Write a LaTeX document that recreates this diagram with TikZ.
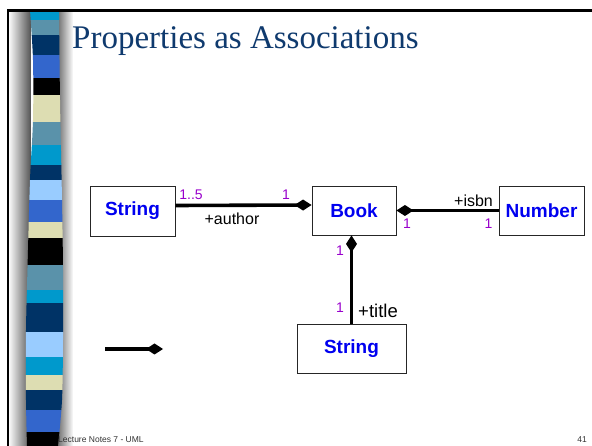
\documentclass[tikz,border=0pt]{standalone}
\usepackage{fontspec}
\setmainfont{Liberation Sans}
\newfontfamily\titlefont{Liberation Serif}
\usetikzlibrary{arrows.meta}
\definecolor{bcyan}{HTML}{0099CC}
\definecolor{bsteel}{HTML}{5A92AA}
\definecolor{bnavy}{HTML}{003366}
\definecolor{broyal}{HTML}{3366CC}
\definecolor{bbeige}{HTML}{DDDDB2}
\definecolor{blight}{HTML}{99CCFF}
\definecolor{titleblue}{HTML}{0F3A6E}
\definecolor{multi}{RGB}{153,0,204}
\definecolor{classblue}{HTML}{0000F0}
\begin{document}
\begin{tikzpicture}[x=1pt,y=-1pt,
  classbox/.style={draw=black!85, line width=0.9pt, inner sep=0pt,
    font=\bfseries\fontsize{19}{19}\selectfont, text=classblue},
  assoc/.style={line width=3.6pt, -{Diamond[length=17pt,width=11pt]}},
  mult/.style={inner sep=0pt, text=multi, font=\fontsize{14}{14}\selectfont},
  role/.style={inner sep=0pt, text=black, font=\fontsize{16}{16}\selectfont},
  foot/.style={inner sep=0pt, text=black!80, font=\fontsize{8.5}{8.5}\selectfont}]
\useasboundingbox (0,0) rectangle (592,446);
\fill[white] (0,0) rectangle (592,446);
% side shading (stepped)
\foreach \i [evaluate=\i as \g using 2+3*\i] in {0,...,21}
  \fill[black!\g] ({9+\i},11) rectangle ({10.2+\i},446);
\foreach \i [evaluate=\i as \g using 66-3.6*\i] in {0,...,17}
  \fill[black!\g] ({55+\i},11) rectangle ({56.2+\i},446);
% coloured strip
\begin{scope}
\clip plot[smooth] coordinates {(30,10) (33,60) (33,120) (30,180) (28,250) (26,330) (26,400) (27,446)}
  -- plot[smooth] coordinates {(58,446) (62,400) (63,340) (63,270) (62,200) (60,100) (59,10)} -- cycle;
\foreach \a/\b/\c in {10/20/bcyan, 20/35/bsteel, 35/55/bnavy, 55/78/broyal, 78/95/black,
  95/122/bbeige, 122/145/bsteel, 145/165/bcyan, 165/180/bnavy, 180/200/blight,
  200/222/broyal, 222/238/bbeige, 238/265/black, 265/290/bsteel, 290/303/bcyan,
  303/332/bnavy, 332/357/blight, 357/375/bcyan, 375/390/bbeige, 390/410/bnavy,
  410/432/broyal, 432/447/black}
  \fill[\c] (20,\a) rectangle (75,\b);
\end{scope}
% frame
\draw[line width=2.6pt] (7,10.5) -- (592,10.5);
\draw[line width=2pt] (8,9.5) -- (8,446);
% title
\node[anchor=base west, inner sep=0pt, text=titleblue, font=\titlefont\fontsize{33}{33}\selectfont]
  (title) at (72,49) {Properties as Associations};
% classes
\node[classbox, minimum width=85pt, minimum height=50pt] (s1) at (132.5,211) {String};
\node[classbox, minimum width=84pt, minimum height=49pt] (book) at (354,210.5) {Book};
\node[classbox, minimum width=85pt, minimum height=49pt] (num) at (541.5,210.5) {Number};
\node[classbox, minimum width=109pt, minimum height=49pt] (s2) at (351.5,348.5) {String};
% associations
\draw[assoc] ([yshift=5.5pt]s1.east) -- ([yshift=5.5pt]book.west);
\draw[assoc] (num.west) -- (book.east);
\draw[assoc] (s2.north) -- (s2.north |- book.south);
% labels
\node[mult] (m1) at (191,195) {1..5};
\node[mult] (m2) at (286,195) {1};
\node[role] (r1) at (232,219) {+author};
\node[role] (r2) at (473.5,201) {+isbn};
\node[mult] (m3) at (407,224) {1};
\node[mult] (m4) at (488.5,224) {1};
\node[mult] (m5) at (340,251) {1};
\node[mult] (m6) at (340,308) {1};
\node[role, font=\fontsize{18.5}{18.5}\selectfont] (r3) at (378,311) {+title};
% legend
\coordinate (la) at (105,349);
\coordinate (lb) at (163,349);
\draw[assoc] (la) -- (lb);
% footer
\node[foot, anchor=base west] (f1) at (58,442) {Lecture Notes 7 - UML};
\node[foot, anchor=base east] (f2) at (587,442) {41};
\end{tikzpicture}
\end{document}
